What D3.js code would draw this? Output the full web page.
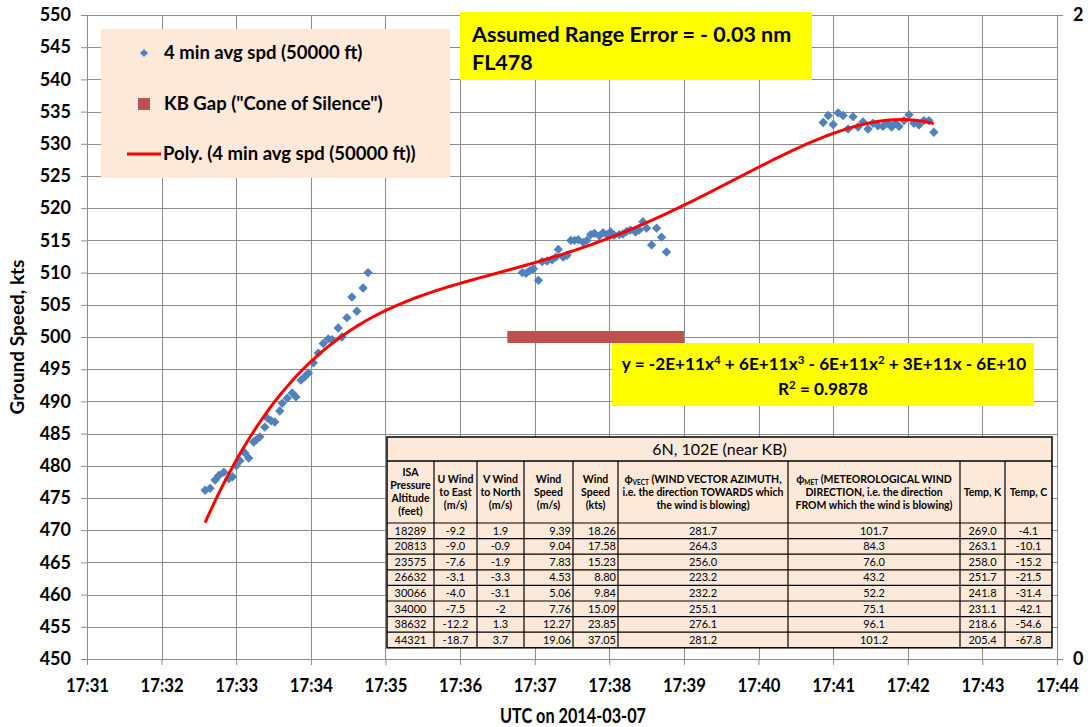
<!DOCTYPE html>
<html>
<head>
<meta charset="utf-8">
<script src="https://cdn.jsdelivr.net/npm/d3@7"></script>
<style>
  body { margin: 0; background: #fff; }
  svg { display: block; font-family: Lato, "Open Sans", sans-serif; }
</style>
</head>
<body>
<div id="chart"></div>
<script>
// 4 min average ground speed samples (UTC time, kts)
const sampleTimes = [
  "17:32:35","17:32:39","17:32:43","17:32:46","17:32:50","17:32:54","17:32:57","17:33:00","17:33:03","17:33:07",
  "17:33:10","17:33:14","17:33:16","17:33:19","17:33:23","17:33:25","17:33:28","17:33:31","17:33:35","17:33:37",
  "17:33:41","17:33:45","17:33:48","17:33:52","17:33:55","17:33:58","17:34:02","17:34:06","17:34:10","17:34:14",
  "17:34:17","17:34:22","17:34:25","17:34:29","17:34:33","17:34:37","17:34:42","17:34:46",
  "17:36:50","17:36:53","17:36:56","17:36:59","17:37:03","17:37:06","17:37:10","17:37:14","17:37:17","17:37:19",
  "17:37:23","17:37:26","17:37:29","17:37:32","17:37:35","17:37:39","17:37:42","17:37:45","17:37:48","17:37:52",
  "17:37:55","17:37:58","17:38:01","17:38:04","17:38:08","17:38:11","17:38:14","17:38:17","17:38:21","17:38:24",
  "17:38:27","17:38:30","17:38:34","17:38:38","17:38:42","17:38:46",
  "17:40:52","17:40:56","17:41:00","17:41:04","17:41:08","17:41:12","17:41:16","17:41:20","17:41:24","17:41:28",
  "17:41:32","17:41:36","17:41:40","17:41:44","17:41:47","17:41:50","17:41:53","17:41:57","17:42:01","17:42:05",
  "17:42:09","17:42:13","17:42:17","17:42:21"
];
const groundSpeeds = [
  476.2, 476.5, 477.8, 478.5, 479.0, 478.0, 478.3, 480.0, 480.8, 482.0,
  481.2, 483.7, 484.0, 484.5, 486.0, 487.4, 487.0, 486.8, 488.5, 489.7,
  490.5, 491.3, 490.7, 493.3, 493.8, 494.4, 496.0, 497.5, 499.0, 499.7,
  499.6, 501.4, 500.0, 503.0, 506.2, 504.0, 507.6, 510.0,
  510.0, 509.9, 510.3, 510.6, 508.8, 511.7, 511.8, 512.0, 512.4, 513.6,
  512.4, 512.7, 515.0, 515.0, 515.1, 514.7, 515.0, 515.9, 516.1, 515.7,
  516.2, 515.9, 516.3, 515.8, 515.9, 516.0, 516.4, 516.6, 516.3, 516.6,
  517.9, 516.9, 514.3, 516.9, 515.5, 513.2,
  533.3, 534.4, 533.0, 534.8, 534.4, 532.3, 534.2, 532.6, 533.4, 532.3,
  533.2, 532.8, 532.7, 533.2, 532.6, 533.2, 532.7, 533.6, 534.5, 533.2,
  532.9, 533.6, 533.6, 531.8
];

// KB gap ("cone of silence") span at 500 kts
const kbGapTimes = ["17:36:38", "17:39:00"];
const kbGapSpeed = 500;

const xDomain = ["17:31:00", "17:44:00"];
const yDomain = [450, 550];
const rightDomain = [0, 2];

const tableTitle = "6N, 102E (near KB)";
const altitudes = ["18289","20813","23575","26632","30066","34000","38632","44321"];
const uWind = ["-9.2","-9.0","-7.6","-3.1","-4.0","-7.5","-12.2","-18.7"];
const vWind = ["1.9","-0.9","-1.9","-3.3","-3.1","-2","1.3","3.7"];
const windMs = ["9.39","9.04","7.83","4.53","5.06","7.76","12.27","19.06"];
const windKts = ["18.26","17.58","15.23","8.80","9.84","15.09","23.85","37.05"];
const phiVect = ["281.7","264.3","256.0","223.2","232.2","255.1","276.1","281.2"];
const phiMet = ["101.7","84.3","76.0","43.2","52.2","75.1","96.1","101.2"];
const tempK = ["269.0","263.1","258.0","251.7","241.8","231.1","218.6","205.4"];
const tempC = ["-4.1","-10.1","-15.2","-21.5","-31.4","-42.1","-54.6","-67.8"];

const headers = [
  [["ISA"], ["Pressure"], ["Altitude"], ["(feet)"]],
  [["U Wind"], ["to East"], ["(m/s)"]],
  [["V Wind"], ["to North"], ["(m/s)"]],
  [["Wind"], ["Speed"], ["(m/s)"]],
  [["Wind"], ["Speed"], ["(kts)"]],
  [["ϕ", "VECT", " (WIND VECTOR AZIMUTH,"], ["i.e. the direction TOWARDS which"], ["the wind is blowing)"]],
  [["ϕ", "MET", " (METEOROLOGICAL WIND"], ["DIRECTION, i.e. the direction"], ["FROM which the wind is blowing)"]],
  [["Temp, K"]],
  [["Temp, C"]]
];

const W = 1091, H = 727;
const plot = { left: 87, right: 1057, top: 15, bottom: 659 };

const parse = (s) => {
  const [h, m, sec] = s.split(":").map(Number);
  return new Date(Date.UTC(2014, 2, 7, h, m, sec));
};

const svg = d3.select("#chart").append("svg").attr("width", W).attr("height", H);
svg.append("rect").attr("width", W).attr("height", H).attr("fill", "#fff");

const x = d3.scaleUtc().domain(xDomain.map(parse)).range([plot.left, plot.right]);
const y = d3.scaleLinear().domain(yDomain).range([plot.bottom, plot.top]);
const yRight = d3.scaleLinear().domain(rightDomain).range([plot.bottom, plot.top]);

const grid = "#8c8c8c";
const xTicks = x.ticks(d3.utcMinute.every(1));
const yTicks = y.ticks(20);

// gridlines
svg.append("g").selectAll("line").data(yTicks).join("line")
  .attr("x1", plot.left).attr("x2", plot.right)
  .attr("y1", (d) => Math.round(y(d)) + 0.5).attr("y2", (d) => Math.round(y(d)) + 0.5)
  .attr("stroke", grid).attr("stroke-width", 1);
svg.append("g").selectAll("line").data(xTicks).join("line")
  .attr("x1", (d) => Math.round(x(d)) + 0.5).attr("x2", (d) => Math.round(x(d)) + 0.5)
  .attr("y1", plot.top).attr("y2", plot.bottom)
  .attr("stroke", grid).attr("stroke-width", 1);

// axes
const yAxis = svg.append("g").attr("transform", `translate(${plot.left},0)`)
  .call(d3.axisLeft(y).tickValues(yTicks).tickSize(6).tickPadding(10));
const xAxis = svg.append("g").attr("transform", `translate(0,${plot.bottom})`)
  .call(d3.axisBottom(x).tickValues(xTicks).tickSize(6).tickPadding(14).tickFormat(d3.utcFormat("%H:%M")));
const rAxis = svg.append("g").attr("transform", `translate(${plot.right},0)`)
  .call(d3.axisRight(yRight).tickValues([0, 2]).tickSize(6).tickPadding(10).tickFormat(d3.format("d")));
[yAxis, xAxis, rAxis].forEach((g) => {
  g.selectAll("path, line").attr("stroke", grid);
  g.selectAll("text").attr("fill", "#000").attr("font-weight", "bold").attr("font-size", 18)
    .attr("font-family", "Lato, sans-serif");
});
xAxis.selectAll("text").attr("textLength", 43).attr("lengthAdjust", "spacingAndGlyphs");

// KB gap
svg.append("rect")
  .attr("x", x(parse(kbGapTimes[0])))
  .attr("y", y(kbGapSpeed) - 6)
  .attr("width", x(parse(kbGapTimes[1])) - x(parse(kbGapTimes[0])))
  .attr("height", 12)
  .attr("fill", "#C0504D");

// diamonds
const pts = sampleTimes.map((t, i) => ({ t: parse(t), v: groundSpeeds[i] }));
svg.append("g").selectAll("path").data(pts).join("path")
  .attr("d", d3.symbol(d3.symbolDiamond2, 56))
  .attr("transform", (d) => `translate(${x(d.t)},${y(d.v)})`)
  .attr("fill", "#4F81BD");

// 4th order polynomial trendline (least squares)
const t0 = parse(xDomain[0]);
const mins = pts.map((d) => (d.t - t0) / 60000);
const order = 4;
const A = Array.from({ length: order + 1 }, () => Array(order + 2).fill(0));
mins.forEach((m, k) => {
  for (let i = 0; i <= order; i++) {
    for (let j = 0; j <= order; j++) A[i][j] += Math.pow(m, i + j);
    A[i][order + 1] += Math.pow(m, i) * pts[k].v;
  }
});
for (let i = 0; i <= order; i++) {
  let p = i;
  for (let r = i + 1; r <= order; r++) if (Math.abs(A[r][i]) > Math.abs(A[p][i])) p = r;
  [A[i], A[p]] = [A[p], A[i]];
  for (let r = 0; r <= order; r++) {
    if (r === i) continue;
    const f = A[r][i] / A[i][i];
    for (let c = i; c <= order + 1; c++) A[r][c] -= f * A[i][c];
  }
}
const coef = A.map((row, i) => row[order + 1] / row[i]);
const poly = (m) => coef.reduce((s, c, i) => s + c * Math.pow(m, i), 0);
const mExtent = d3.extent(mins);
const curve = d3.range(0, 201).map((k) => mExtent[0] + (mExtent[1] - mExtent[0]) * k / 200);
svg.append("path")
  .datum(curve)
  .attr("d", d3.line().x((m) => x(new Date(+t0 + m * 60000))).y((m) => y(poly(m))))
  .attr("fill", "none").attr("stroke", "#FF0000").attr("stroke-width", 3);

// legend
const legend = svg.append("g");
legend.append("rect").attr("x", 101).attr("y", 29).attr("width", 349).attr("height", 149).attr("fill", "#FDE9D9");
const legText = ["4 min avg spd (50000 ft)", "KB Gap (\"Cone of Silence\")", "Poly. (4 min avg spd (50000 ft))"];
const legY = [53, 104, 154];
legend.append("path").attr("d", d3.symbol(d3.symbolDiamond2, 42)).attr("transform", `translate(144,${legY[0]})`).attr("fill", "#4F81BD");
legend.append("rect").attr("x", 138).attr("y", legY[1] - 6).attr("width", 12).attr("height", 12).attr("fill", "#C0504D");
legend.append("line").attr("x1", 127).attr("x2", 161).attr("y1", legY[2]).attr("y2", legY[2]).attr("stroke", "#FF0000").attr("stroke-width", 3);
legend.selectAll("text").data(legText).join("text")
  .attr("x", (d, i) => (i === 2 ? 163 : 164)).attr("y", (d, i) => legY[i]).attr("dy", "0.35em")
  .attr("font-size", 18.5).attr("font-weight", "bold").text((d) => d);

// annotation boxes
svg.append("rect").attr("x", 460).attr("y", 12).attr("width", 352).attr("height", 68).attr("fill", "#FFFF00");
svg.append("text").attr("x", 472).attr("y", 42).attr("font-size", 21.5).attr("font-weight", "bold").text("Assumed Range Error = - 0.03 nm");
svg.append("text").attr("x", 472).attr("y", 70).attr("font-size", 21.5).attr("font-weight", "bold").text("FL478");

svg.append("rect").attr("x", 612).attr("y", 343).attr("width", 422).attr("height", 63).attr("fill", "#FFFF00");
const eq = svg.append("text").attr("x", 824).attr("y", 370).attr("text-anchor", "middle").attr("font-size", 17.2).attr("font-weight", "bold");
[["y = -2E+11x"], ["4", 1], [" + 6E+11x"], ["3", 1], [" - 6E+11x"], ["2", 1], [" + 3E+11x - 6E+10"]].forEach(([s, sup]) => {
  eq.append("tspan").attr("baseline-shift", sup ? "super" : null).attr("font-size", sup ? 11.5 : null).text(s);
});
const r2 = svg.append("text").attr("x", 823).attr("y", 395).attr("text-anchor", "middle").attr("font-size", 17.2).attr("font-weight", "bold");
r2.append("tspan").text("R");
r2.append("tspan").attr("baseline-shift", "super").attr("font-size", 11.5).text("2");
r2.append("tspan").text(" = 0.9878");

// axis titles
svg.append("text").attr("transform", "translate(24,337) rotate(-90)").attr("text-anchor", "middle")
  .attr("font-size", 19).attr("font-weight", "bold").text("Ground Speed, kts");
svg.append("text").attr("x", 573).attr("y", 723).attr("text-anchor", "middle")
  .attr("font-size", 20).attr("font-weight", "bold").attr("textLength", 146).attr("lengthAdjust", "spacingAndGlyphs")
  .text("UTC on 2014-03-07");

// wind table
const colEdges = [387, 434, 477, 524, 573, 618, 788, 960, 1005, 1052];
const tTop = 437, titleBottom = 461, headBottom = 523, rowH = 15.6;
const columns = [altitudes, uWind, vWind, windMs, windKts, phiVect, phiMet, tempK, tempC];
const align = ["middle", "middle", "middle", "end", "end", "middle", "middle", "middle", "middle"];
const tBottom = headBottom + rowH * altitudes.length;
const table = svg.append("g").attr("font-family", "Lato, sans-serif");
table.append("rect").attr("x", colEdges[0]).attr("y", tTop).attr("width", colEdges[9] - colEdges[0]).attr("height", tBottom - tTop)
  .attr("fill", "#FDE9D9").attr("stroke", "#000").attr("stroke-width", 1.5);
table.append("line").attr("x1", colEdges[0]).attr("x2", colEdges[9]).attr("y1", titleBottom).attr("y2", titleBottom).attr("stroke", "#000").attr("stroke-width", 1.5);
d3.range(altitudes.length).forEach((i) => {
  const yy = headBottom + i * rowH;
  table.append("line").attr("x1", colEdges[0]).attr("x2", colEdges[9]).attr("y1", yy).attr("y2", yy).attr("stroke", "#000").attr("stroke-width", 1.2);
});
colEdges.slice(1, -1).forEach((cx) => {
  table.append("line").attr("x1", cx).attr("x2", cx).attr("y1", titleBottom).attr("y2", tBottom).attr("stroke", "#000").attr("stroke-width", 1.2);
});
table.append("text").attr("x", (colEdges[0] + colEdges[9]) / 2).attr("y", 449).attr("dy", "0.35em").attr("text-anchor", "middle")
  .attr("font-size", 16).text(tableTitle);

headers.forEach((lines, c) => {
  const cx = (colEdges[c] + colEdges[c + 1]) / 2;
  const lh = 13;
  const y0 = (titleBottom + headBottom) / 2 - (lines.length - 1) * lh / 2;
  lines.forEach((segs, k) => {
    const t = table.append("text").attr("x", cx).attr("y", y0 + k * lh).attr("dy", "0.35em").attr("text-anchor", "middle")
      .attr("font-size", 10.5).attr("font-weight", "bold");
    if (segs.length === 3) {
      t.append("tspan").text(segs[0]);
      t.append("tspan").attr("font-size", 6.5).attr("dy", 2).text(segs[1]);
      t.append("tspan").attr("dy", -2).text(segs[2]);
    } else {
      t.text(segs[0]);
    }
  });
});

columns.forEach((vals, c) => {
  const xPos = align[c] === "end" ? colEdges[c + 1] - 2 : (colEdges[c] + colEdges[c + 1]) / 2;
  table.append("g").selectAll("text").data(vals).join("text")
    .attr("x", xPos).attr("y", (d, i) => headBottom + i * rowH + rowH / 2).attr("dy", "0.35em")
    .attr("text-anchor", align[c]).attr("font-size", 11).text((d) => d);
});
</script>
</body>
</html>
